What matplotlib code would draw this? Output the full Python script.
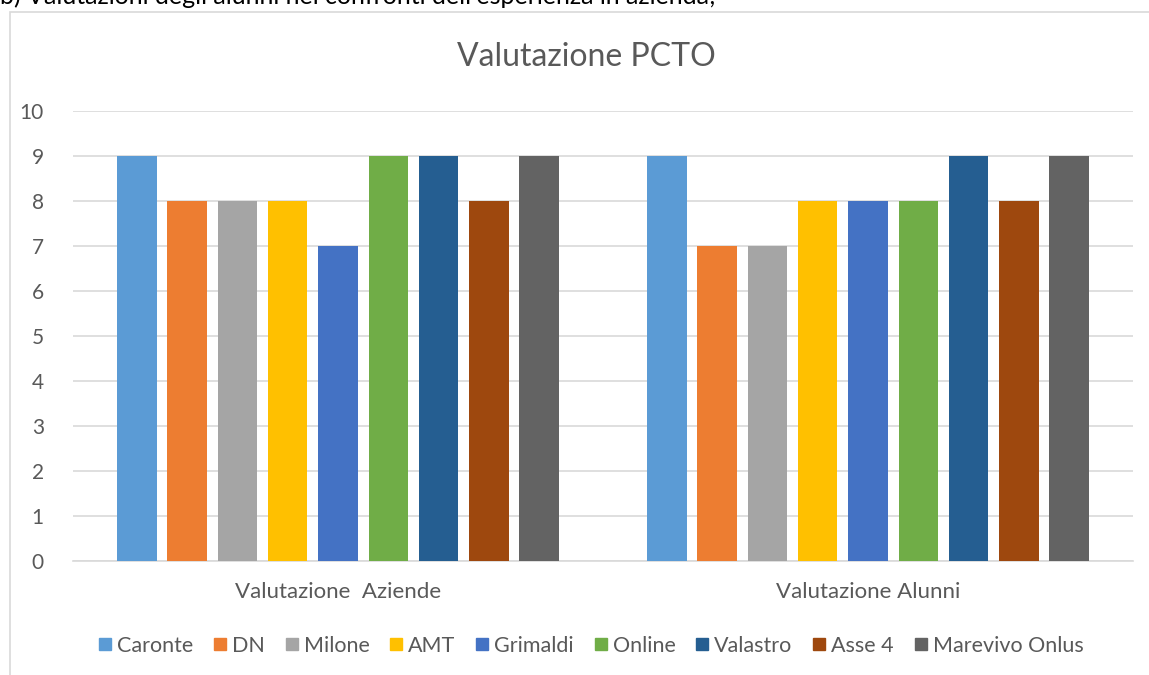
import matplotlib
matplotlib.use("Agg")
import matplotlib.pyplot as plt
from matplotlib.lines import Line2D
from matplotlib.patches import Rectangle

# Data
categories = ["Valutazione  Aziende", "Valutazione Alunni"]
companies = ["Caronte", "DN", "Milone", "AMT", "Grimaldi",
             "Online", "Valastro", "Asse 4", "Marevivo Onlus"]
scores_aziende = [9, 8, 8, 8, 7, 9, 9, 8, 9]
scores_alunni = [9, 7, 7, 8, 8, 8, 9, 8, 9]
colors = ["#5B9BD5", "#ED7D31", "#A5A5A5", "#FFC000", "#4472C4",
          "#70AD47", "#255E91", "#9E480E", "#636363"]

plt.rcParams['font.family'] = ['Lato', 'DejaVu Sans']
text_col = "#595959"

fig = plt.figure(figsize=(11.49, 6.75), dpi=100)

# Cropped document caption at the very top
fig.text(0.0, 1.0 + 0.006, "b) Valutazioni degli alunni nei confronti dell'esperienza in azienda;",
         ha='left', va='center', fontsize=18, color='black')

# Chart frame (only left and top edges are visible in the crop)
fig.patches.append(Rectangle((10 / 1149, -0.1), 1.2, 1 - 12 / 675 + 0.1,
                             transform=fig.transFigure, fill=False,
                             edgecolor="#D9D9D9", linewidth=1.2))

ax = fig.add_axes([73 / 1149, 1 - 561 / 675, (1133 - 73) / 1149, (561 - 111) / 675])

pitch = 0.0949
width = 0.0745
n = len(companies)
for i, (name, c) in enumerate(zip(companies, colors)):
    offset = (i - (n - 1) / 2) * pitch
    vals = [scores_aziende[i], scores_alunni[i]]
    ax.bar([k + offset for k in range(len(categories))], vals, width=width,
           color=c, label=name, zorder=3)

ax.set_xlim(-0.5, 1.5)
ax.set_ylim(0, 10)
ax.set_yticks(range(0, 11))
ax.yaxis.grid(True, color="#D9D9D9", linewidth=1.2, zorder=0)
ax.set_xticks(range(len(categories)))
ax.set_xticklabels(categories)
ax.tick_params(axis='both', length=0, labelsize=15, labelcolor=text_col)
ax.tick_params(axis='x', labelsize=16, pad=15)
ax.tick_params(axis='y', pad=21)
for side in ['top', 'right', 'left']:
    ax.spines[side].set_visible(False)
ax.spines['bottom'].set_color("#D9D9D9")
ax.spines['bottom'].set_linewidth(1.2)

fig.text(586 / 1149, 1 - 57 / 675, "Valutazione PCTO", ha='center', va='center',
         fontsize=23, color=text_col)

handles = [Line2D([0], [0], marker='s', linestyle='none', markersize=9,
                  markerfacecolor=c, markeredgecolor=c, label=name)
           for name, c in zip(companies, colors)]
fig.legend(handles=handles, loc='center', bbox_to_anchor=(590 / 1149, 1 - 646 / 675),
           ncol=n, frameon=False, fontsize=15.5, labelcolor=text_col,
           handletextpad=0.15, columnspacing=0.85, handlelength=0.8)

fig.savefig("out.png", dpi=100)
